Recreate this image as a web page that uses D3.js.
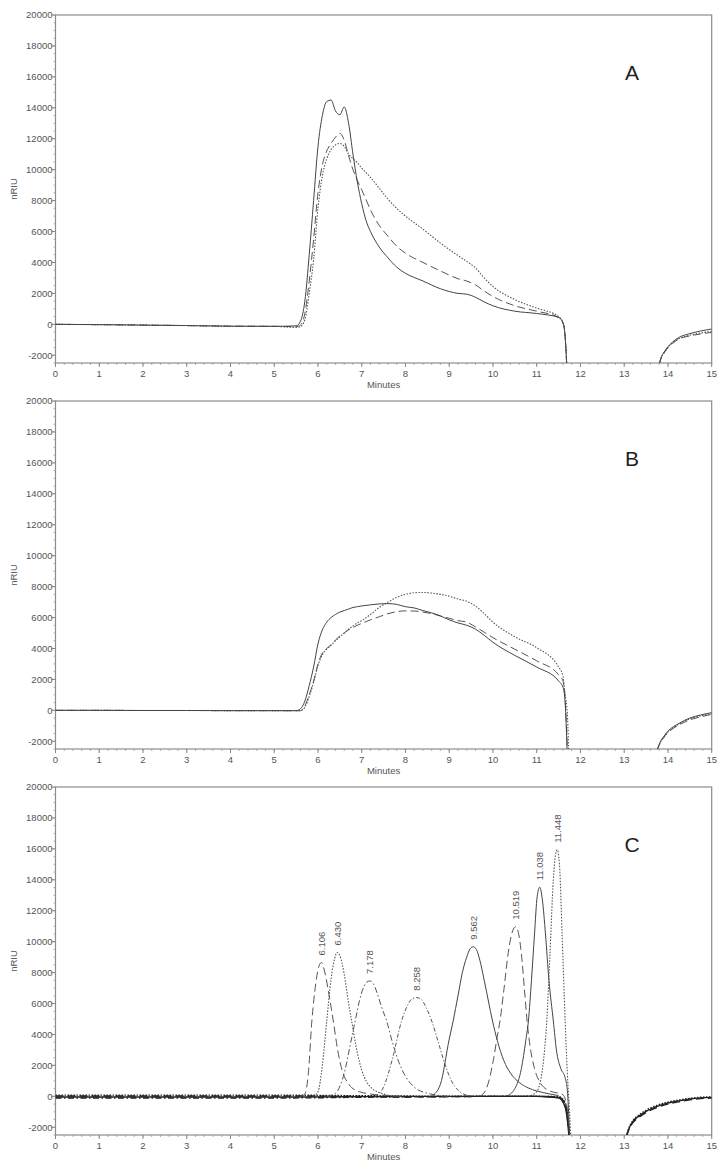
<!DOCTYPE html>
<html>
<head>
<meta charset="utf-8">
<script src="https://cdn.jsdelivr.net/npm/d3@7"></script>
<style>
body { margin: 0; background: #fff; }
svg text { font-family: "Liberation Sans", Arial, sans-serif; }
</style>
</head>
<body>
<div id="figure"></div>
<script>
// tick labels
var xTicks = [0, 1, 2, 3, 4, 5, 6, 7, 8, 9, 10, 11, 12, 13, 14, 15];
var yTicks = [-2000, 0, 2000, 4000, 6000, 8000, 10000, 12000, 14000, 16000, 18000, 20000];
var panelNames = ["A", "B", "C"];

// panel A
var aTime = [0, 1, 2, 3, 4, 5, 5.5, 5.6, 5.7, 5.8, 5.9, 6.0, 6.1, 6.2, 6.3, 6.4, 6.5, 6.6, 6.7, 6.8, 6.9, 7.0, 7.1, 7.2, 7.4, 7.6, 7.8, 8.0, 8.4, 8.8, 9.2, 9.4, 9.6, 9.8, 10.0, 10.5, 11.0, 11.5, 11.6, 11.65, 11.7, 11.75];
var aSolid = [0, -20, -50, -80, -120, -130, -100, 200, 1500, 4500, 8000, 11500, 13500, 14400, 14500, 13800, 13550, 14050, 13000, 11000, 9200, 7800, 6700, 6000, 5000, 4300, 3700, 3300, 2800, 2300, 2000, 1950, 1750, 1450, 1200, 850, 700, 450, 100, -800, -3500, -7000];
var aDashed = [0, -20, -50, -80, -120, -130, -150, -50, 700, 2800, 5500, 8500, 10300, 11200, 11700, 12100, 12350, 11900, 10900, 10000, 9300, 8700, 8050, 7400, 6400, 5700, 5050, 4600, 4000, 3450, 2950, 2800, 2550, 2150, 1800, 1200, 850, 450, 100, -800, -3500, -7000];
var aDotted = [0, -20, -50, -80, -120, -130, -200, -150, 300, 2000, 4200, 7500, 9600, 10700, 11300, 11600, 11700, 11500, 11000, 10700, 10450, 10100, 9800, 9500, 8800, 8100, 7500, 7000, 6150, 5250, 4450, 4070, 3650, 3000, 2450, 1600, 1050, 500, 100, -800, -3500, -7000];
var aRecTime = [13.8, 13.85, 13.9, 14.0, 14.1, 14.25, 14.5, 14.75, 15];
var aRecSolid = [-2600, -2100, -1850, -1450, -1160, -850, -600, -430, -300];
var aRecDashed = [-2600, -2150, -1900, -1520, -1250, -950, -750, -620, -520];
var aRecDotted = [-2600, -2120, -1880, -1490, -1210, -920, -700, -560, -450];

// panel B
var bTime = [0, 1, 2, 3, 4, 5, 5.5, 5.6, 5.7, 5.8, 5.9, 6.0, 6.1, 6.2, 6.3, 6.4, 6.5, 6.6, 6.7, 6.8, 6.9, 7.0, 7.2, 7.4, 7.6, 7.8, 8.0, 8.2, 8.4, 8.6, 8.8, 9.0, 9.2, 9.4, 9.6, 9.8, 10.0, 10.5, 11.0, 11.5, 11.6, 11.65, 11.7, 11.75];
var bSolid = [0, 0, -10, -10, -20, -20, -20, 100, 600, 1600, 2800, 4300, 5200, 5700, 6000, 6200, 6350, 6450, 6550, 6650, 6700, 6750, 6820, 6880, 6900, 6850, 6700, 6620, 6450, 6300, 6100, 5850, 5650, 5500, 5250, 4850, 4400, 3550, 2800, 1900, 1500, 500, -3000, -7000];
var bDashed = [0, 0, -10, -10, -20, -20, -30, -20, 300, 1000, 1900, 3000, 3700, 4000, 4250, 4550, 4800, 5000, 5200, 5350, 5500, 5620, 5850, 6050, 6250, 6380, 6430, 6420, 6350, 6250, 6100, 5950, 5800, 5700, 5400, 5050, 4700, 3950, 3200, 2300, 1900, 700, -2500, -7000];
var bDotted = [0, 0, -10, -10, -20, -20, -30, -20, 200, 900, 1800, 2900, 3600, 3950, 4200, 4500, 4750, 5000, 5250, 5450, 5650, 5800, 6200, 6650, 7000, 7300, 7500, 7600, 7620, 7580, 7500, 7380, 7200, 7050, 6750, 6250, 5700, 4750, 4050, 2800, 2200, 1000, -200, -5000];
var bRecTime = [13.75, 13.8, 13.9, 14.0, 14.25, 14.5, 14.75, 15];
var bRecSolid = [-2600, -2200, -1700, -1350, -850, -500, -300, -150];
var bRecDashed = [-2600, -2250, -1780, -1450, -950, -620, -420, -260];
var bRecDotted = [-2600, -2230, -1740, -1400, -900, -560, -360, -200];

// panel C: shared baseline + recovery, then one trace per peak
var cBaseTime = [0, 1, 2, 3, 4, 5, 5.7, 7, 8, 9, 10, 11, 11.5, 11.65, 11.75, 11.85];
var cBaseSolid = [-40, -40, -40, -40, -40, -40, -40, -20, 0, 0, 0, 0, -100, -700, -3000, -8000];
var cBaseDashed = [20, 20, 20, 20, 20, 20, 20, 0, -40, -20, 0, 0, -50, -500, -2800, -8000];
var cBaseDotted = [80, 80, 80, 80, 80, 80, 70, 40, 20, 10, 10, 0, -20, -400, -2600, -8000];
var cBaseDashDot = [-110, -110, -110, -110, -110, -110, -100, -60, -40, -20, 0, 0, -80, -600, -2900, -8000];
var cRecTime = [13.05, 13.1, 13.2, 13.35, 13.5, 13.75, 14, 14.25, 14.5, 14.75, 15];
var cRecSolid = [-2600, -2150, -1620, -1250, -970, -650, -430, -290, -170, -100, -65];
var cRecDashed = [-2600, -2200, -1700, -1330, -1050, -720, -500, -350, -230, -150, -110];
var cRecDotted = [-2600, -2100, -1560, -1180, -900, -580, -370, -240, -130, -60, -30];

var peakLabels = ["6.106", "6.430", "7.178", "8.258", "9.562", "10.519", "11.038", "11.448"];
var p1Time = [5.6, 5.7, 5.78, 5.86, 5.95, 6.02, 6.08, 6.15, 6.25, 6.35, 6.45, 6.55, 6.7, 6.9, 7.2, 7.6, 8.0];
var p1Val = [0, 150, 1500, 4870, 7300, 8400, 8650, 8100, 6600, 4870, 3000, 1700, 800, 350, 150, 50, 0];
var p2Time = [5.9, 6.0, 6.1, 6.2, 6.3, 6.38, 6.44, 6.5, 6.6, 6.7, 6.77, 6.9, 7.0, 7.2, 7.5, 7.8];
var p2Val = [0, 300, 2000, 4870, 7600, 8900, 9300, 9100, 7900, 6000, 4870, 2800, 1700, 600, 150, 0];
var p3Time = [6.2, 6.4, 6.6, 6.75, 6.85, 6.95, 7.05, 7.12, 7.19, 7.26, 7.35, 7.45, 7.57, 7.7, 7.85, 8.0, 8.2, 8.5, 9.0];
var p3Val = [0, 200, 1500, 3500, 4870, 6200, 7100, 7400, 7460, 7300, 6700, 5800, 4870, 3500, 2200, 1300, 600, 200, 0];
var p4Time = [7.3, 7.5, 7.7, 7.91, 8.05, 8.15, 8.26, 8.37, 8.47, 8.6, 8.75, 8.9, 9.05, 9.2, 9.5];
var p4Val = [0, 600, 2400, 4870, 5900, 6300, 6380, 6250, 5750, 4870, 3500, 2100, 1000, 400, 0];
var p5Time = [8.6, 8.8, 9.0, 9.09, 9.2, 9.3, 9.4, 9.48, 9.55, 9.62, 9.7, 9.8, 9.9, 9.99, 10.1, 10.25, 10.4, 10.6, 10.8, 11.0, 11.3, 11.5];
var p5Val = [0, 800, 3700, 4870, 6500, 8000, 9000, 9550, 9670, 9500, 8800, 7500, 6100, 4870, 3600, 2300, 1500, 900, 550, 350, 150, 50];
var p6Time = [9.7, 9.85, 10.0, 10.1, 10.16, 10.25, 10.35, 10.45, 10.52, 10.58, 10.65, 10.72, 10.78, 10.85, 10.95, 11.1, 11.3, 11.5, 11.6, 11.7, 11.8];
var p6Val = [0, 500, 2200, 3900, 4870, 6900, 9300, 10700, 10970, 10600, 9200, 6900, 4870, 3200, 1800, 800, 350, 200, 100, -800, -5000];
var p7Time = [10.3, 10.5, 10.65, 10.75, 10.81, 10.88, 10.95, 11.01, 11.07, 11.13, 11.2, 11.28, 11.38, 11.45, 11.55, 11.65, 11.7, 11.75, 11.8];
var p7Val = [0, 500, 1800, 3600, 4870, 7500, 10500, 12900, 13520, 12700, 10500, 7500, 4870, 3000, 1800, 1200, 400, -2500, -7000];
var p8Time = [10.8, 11.0, 11.1, 11.18, 11.23, 11.3, 11.38, 11.43, 11.47, 11.52, 11.58, 11.65, 11.7, 11.75, 11.8];
var p8Val = [0, 300, 1200, 3000, 4870, 9000, 14000, 15600, 15940, 15000, 10500, 4870, 1500, -1000, -4000];

var dashes = {
    solid: null,
    dashed: "8,4",
    dotted: "1.5,1.5",
    dashdot: "6,2.5,1.5,2.5",
    dashdot2: "4,2,1.2,2"
};

var width = 728, height = 1171;
var panelTops = [15, 401, 787];
var plotH = 348;
var x = d3.scaleLinear().domain([0, 15]).range([55.5, 711.7]);

var svg = d3.select("#figure").append("svg")
    .attr("width", width)
    .attr("height", height);

function zip(t, v) { return t.map(function (d, i) { return [d, v[i]]; }); }

var panels = [
    {
        lines: [
            [zip(aTime, aDotted), "dotted"], [zip(aTime, aDashed), "dashed"], [zip(aTime, aSolid), "solid"],
            [zip(aRecTime, aRecDotted), "dotted"], [zip(aRecTime, aRecDashed), "dashed"], [zip(aRecTime, aRecSolid), "solid"]
        ], peaks: [], heavy: false
    },
    {
        lines: [
            [zip(bTime, bDotted), "dotted"], [zip(bTime, bDashed), "dashed"], [zip(bTime, bSolid), "solid"],
            [zip(bRecTime, bRecDotted), "dotted"], [zip(bRecTime, bRecDashed), "dashed"], [zip(bRecTime, bRecSolid), "solid"]
        ], peaks: [], heavy: false
    },
    {
        lines: [
            [zip(cBaseTime, cBaseSolid), "solid"], [zip(cBaseTime, cBaseDashed), "dashed"],
            [zip(cBaseTime, cBaseDotted), "dotted"], [zip(cBaseTime, cBaseDashDot), "dashdot"],
            [zip(cRecTime, cRecSolid), "solid"], [zip(cRecTime, cRecDashed), "dashed"], [zip(cRecTime, cRecDotted), "dotted"]
        ],
        peaks: [
            [zip(p1Time, p1Val), "dashed"], [zip(p2Time, p2Val), "dotted"],
            [zip(p3Time, p3Val), "dashdot"], [zip(p4Time, p4Val), "dashdot2"],
            [zip(p5Time, p5Val), "solid"], [zip(p6Time, p6Val), "dashed"],
            [zip(p7Time, p7Val), "solid"], [zip(p8Time, p8Val), "dotted"]
        ], heavy: true
    }
];

panels.forEach(function (p, pi) {
    var top = panelTops[pi];
    var y = d3.scaleLinear().domain([-2500, 20000]).range([top + plotH, top]);
    var g = svg.append("g");

    g.append("clipPath").attr("id", "clip" + pi)
        .append("rect")
        .attr("x", x(0)).attr("y", top)
        .attr("width", x(15) - x(0)).attr("height", plotH);

    // frame
    g.append("rect")
        .attr("x", x(0)).attr("y", top)
        .attr("width", x(15) - x(0)).attr("height", plotH)
        .attr("fill", "none")
        .attr("stroke", "#8c8c8c")
        .attr("stroke-width", 1.2);

    // y minor + major ticks
    g.selectAll(null).data(d3.range(-2500, 20001, 500)).enter().append("line")
        .attr("x1", x(0) - 2).attr("x2", x(0))
        .attr("y1", function (d) { return y(d); }).attr("y2", function (d) { return y(d); })
        .attr("stroke", "#999").attr("stroke-width", 0.8);
    g.selectAll(null).data(yTicks).enter().append("line")
        .attr("x1", x(0) - 4).attr("x2", x(0))
        .attr("y1", function (d) { return y(d); }).attr("y2", function (d) { return y(d); })
        .attr("stroke", "#888").attr("stroke-width", 1);
    g.selectAll(null).data(yTicks).enter().append("text")
        .attr("x", x(0) - 3)
        .attr("y", function (d) { return y(d) + 3.3; })
        .attr("text-anchor", "end")
        .attr("font-size", "9.5px")
        .attr("fill", "#555")
        .text(function (d) { return d; });

    // x minor + major ticks
    g.selectAll(null).data(d3.range(0, 150.5, 2)).enter().append("line")
        .attr("x1", function (d) { return x(d / 10); }).attr("x2", function (d) { return x(d / 10); })
        .attr("y1", top + plotH).attr("y2", top + plotH + 2)
        .attr("stroke", "#999").attr("stroke-width", 0.8);
    g.selectAll(null).data(xTicks).enter().append("line")
        .attr("x1", function (d) { return x(d); }).attr("x2", function (d) { return x(d); })
        .attr("y1", top + plotH).attr("y2", top + plotH + 4)
        .attr("stroke", "#888").attr("stroke-width", 1);
    g.selectAll(null).data(xTicks).enter().append("text")
        .attr("x", function (d) { return x(d); })
        .attr("y", top + plotH + 14)
        .attr("text-anchor", "middle")
        .attr("font-size", "9.5px")
        .attr("fill", "#555")
        .text(function (d) { return d; });

    g.append("text")
        .attr("x", (x(0) + x(15)) / 2)
        .attr("y", top + plotH + 25)
        .attr("text-anchor", "middle")
        .attr("font-size", "9.5px")
        .attr("fill", "#555")
        .text("Minutes");

    g.append("text")
        .attr("transform", "translate(17," + (top + plotH / 2) + ") rotate(-90)")
        .attr("text-anchor", "middle")
        .attr("font-size", "9.5px")
        .attr("fill", "#555")
        .text("nRIU");

    g.append("text")
        .attr("x", 632)
        .attr("y", top + 65)
        .attr("text-anchor", "middle")
        .attr("font-size", "21px")
        .attr("fill", "#222")
        .text(panelNames[pi]);

    var line = d3.line()
        .x(function (d) { return x(d[0]); })
        .y(function (d) { return y(d[1]); })
        .curve(d3.curveMonotoneX);

    var plot = g.append("g").attr("clip-path", "url(#clip" + pi + ")");

    p.lines.forEach(function (l) {
        plot.append("path")
            .attr("d", line(l[0]))
            .attr("fill", "none")
            .attr("stroke", p.heavy ? "#222" : (l[1] === "solid" ? "#444" : "#555"))
            .attr("stroke-width", p.heavy ? 1.4 : (l[1] === "dotted" ? 1.1 : 1))
            .attr("stroke-dasharray", dashes[l[1]]);
    });
    p.peaks.forEach(function (l) {
        plot.append("path")
            .attr("d", line(l[0]))
            .attr("fill", "none")
            .attr("stroke", l[1] === "solid" ? "#444" : "#555")
            .attr("stroke-width", l[1] === "dotted" ? 1.1 : 1)
            .attr("stroke-dasharray", dashes[l[1]]);
    });

    // rotated retention-time labels at each peak apex
    p.peaks.forEach(function (l, i) {
        var apex = l[0][d3.maxIndex(l[0], function (d) { return d[1]; })];
        g.append("text")
            .attr("transform", "translate(" + (x(apex[0]) + 3.3) + "," + (y(apex[1]) - 7) + ") rotate(-90)")
            .attr("text-anchor", "start")
            .attr("font-size", "9.5px")
            .attr("fill", "#555")
            .text(peakLabels[i]);
    });
});
</script>
</body>
</html>
